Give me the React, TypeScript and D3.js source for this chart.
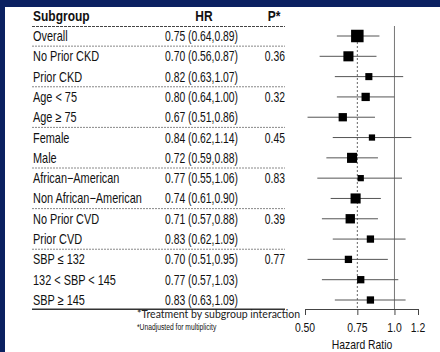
import { useEffect, useRef } from 'react';
import * as d3 from 'd3';

const subgroups = [
  'Overall', 'No Prior CKD', 'Prior CKD', 'Age < 75', 'Age \u2265 75',
  'Female', 'Male', 'African\u2212American', 'Non African\u2212American',
  'No Prior CVD', 'Prior CVD', 'SBP \u2264 132', '132 < SBP < 145', 'SBP \u2265 145',
];
const hr = [0.75, 0.70, 0.82, 0.80, 0.67, 0.84, 0.72, 0.77, 0.74, 0.71, 0.83, 0.70, 0.77, 0.83];
const lower = [0.64, 0.56, 0.63, 0.64, 0.51, 0.62, 0.59, 0.55, 0.61, 0.57, 0.62, 0.51, 0.57, 0.63];
const upper = [0.89, 0.87, 1.07, 1.00, 0.86, 1.14, 0.88, 1.06, 0.90, 0.88, 1.09, 0.95, 1.03, 1.09];
const pValues = ['', '0.36', '', '0.32', '', '0.45', '', '0.83', '', '0.39', '', '0.77', '', ''];
const weight = [100, 65, 32, 44, 44, 25, 65, 25, 65, 56, 34, 34, 34, 34];
const groupEnds = [0, 2, 4, 6, 8, 10];
const ticks = [0.5, 0.75, 1.0, 1.2];
const tickLabels = ['0.50', '0.75', '1.0', '1.2'];

const FONT = '"Liberation Sans", Arial, sans-serif';

// no narrow font installed, so squeeze Liberation Sans horizontally
const narrowText = (g: any, x: number, y: number, str: string, size: number, sx: number, anchor = 'start', bold = false) =>
  g.append('text')
    .attr('transform', `translate(${x},${y}) scale(${sx},1)`)
    .attr('text-anchor', anchor)
    .attr('font-family', FONT)
    .attr('font-size', size)
    .attr('font-weight', bold ? 'bold' : 'normal')
    .attr('fill', '#111')
    .text(str);

const App = () => {
  const svgRef = useRef<SVGSVGElement>(null);

  useEffect(() => {
    const svg = d3.select(svgRef.current);
    svg.selectAll('*').remove();
    const width = 440, height = 352;

    svg.append('rect').attr('width', width).attr('height', height).attr('fill', '#0b2161');
    svg.append('rect').attr('x', 5).attr('y', 7).attr('width', width - 5).attr('height', height - 7).attr('fill', '#fff');

    const y = d3.scalePoint<string>().domain(subgroups).range([36, 300]);
    const step = y.step();
    const x = d3.scaleLog().domain([0.5, 1.2]).range([305, 418]);
    const size = d3.scaleSqrt().domain([0, 100]).range([0, 12.5]);

    // header
    narrowText(svg, 33, 21, 'Subgroup', 15, 0.8, 'start', true);
    narrowText(svg, 204, 21, 'HR', 15, 0.8, 'middle', true);
    narrowText(svg, 274, 21, 'P*', 15, 0.8, 'middle', true);
    svg.append('line').attr('x1', 32).attr('x2', 285).attr('y1', 26.5).attr('y2', 26.5)
      .attr('stroke', '#444').attr('stroke-dasharray', '3,1');

    // separators
    svg.selectAll('.sep').data(groupEnds).enter().append('line')
      .attr('x1', 32).attr('x2', 285)
      .attr('y1', (i) => y(subgroups[i])! + step / 2)
      .attr('y2', (i) => y(subgroups[i])! + step / 2)
      .attr('stroke', '#888').attr('stroke-dasharray', '2,1');
    const lastY = y(subgroups[subgroups.length - 1])! + step / 2 - 1;
    svg.append('line').attr('x1', 32).attr('x2', 285).attr('y1', lastY).attr('y2', lastY)
      .attr('stroke', '#333').attr('stroke-width', 1.5);

    // table text
    subgroups.forEach((s, i) => {
      const yy = y(s)! + 5;
      narrowText(svg, 33, yy, s, 14, 0.78);
      narrowText(svg, 165, yy, `${hr[i].toFixed(2)} (${lower[i].toFixed(2)},${upper[i].toFixed(2)})`, 14, 0.74);
      if (pValues[i]) narrowText(svg, 285, yy, pValues[i], 14, 0.74, 'end');
    });

    // reference lines
    svg.append('line').attr('x1', x(1)).attr('x2', x(1)).attr('y1', 26).attr('y2', 309)
      .attr('stroke', '#777');
    svg.append('line').attr('x1', x(hr[0])).attr('x2', x(hr[0])).attr('y1', 42).attr('y2', 309)
      .attr('stroke', '#666').attr('stroke-dasharray', '2,2');

    // CIs and boxes
    const marks = svg.append('g');
    subgroups.forEach((s, i) => {
      const yy = y(s)!;
      marks.append('line').attr('x1', x(lower[i])).attr('x2', x(upper[i])).attr('y1', yy).attr('y2', yy)
        .attr('stroke', '#555').attr('stroke-width', 1);
      const b = size(weight[i]);
      marks.append('rect').attr('x', x(hr[i]) - b / 2).attr('y', yy - b / 2)
        .attr('width', b).attr('height', b).attr('fill', '#000');
    });

    // axis
    const axis = svg.append('g').attr('transform', 'translate(0,309)')
      .call(d3.axisBottom(x).tickValues(ticks).tickFormat(() => '').tickSize(6).tickSizeOuter(0));
    axis.select('.domain').attr('stroke', '#444');
    axis.selectAll('line').attr('stroke', '#444');
    ticks.forEach((t, i) => narrowText(svg, x(t), 332, tickLabels[i], 13, 0.8, 'middle'));
    narrowText(svg, 362, 349, 'Hazard Ratio', 13, 0.8, 'middle');

    // footnotes
    svg.append('text').attr('x', 137).attr('y', 318).attr('font-family', 'Lato, sans-serif')
      .attr('font-size', 10.5).attr('fill', '#222').text('*Treatment by subgroup interaction');
    narrowText(svg, 137, 330, '*Unadjusted for multiplicity', 9, 0.75);
  }, []);

  return <svg ref={svgRef} width={440} height={352} style={{ position: 'absolute', left: 0, top: 0 }} />;
};

export default App;
